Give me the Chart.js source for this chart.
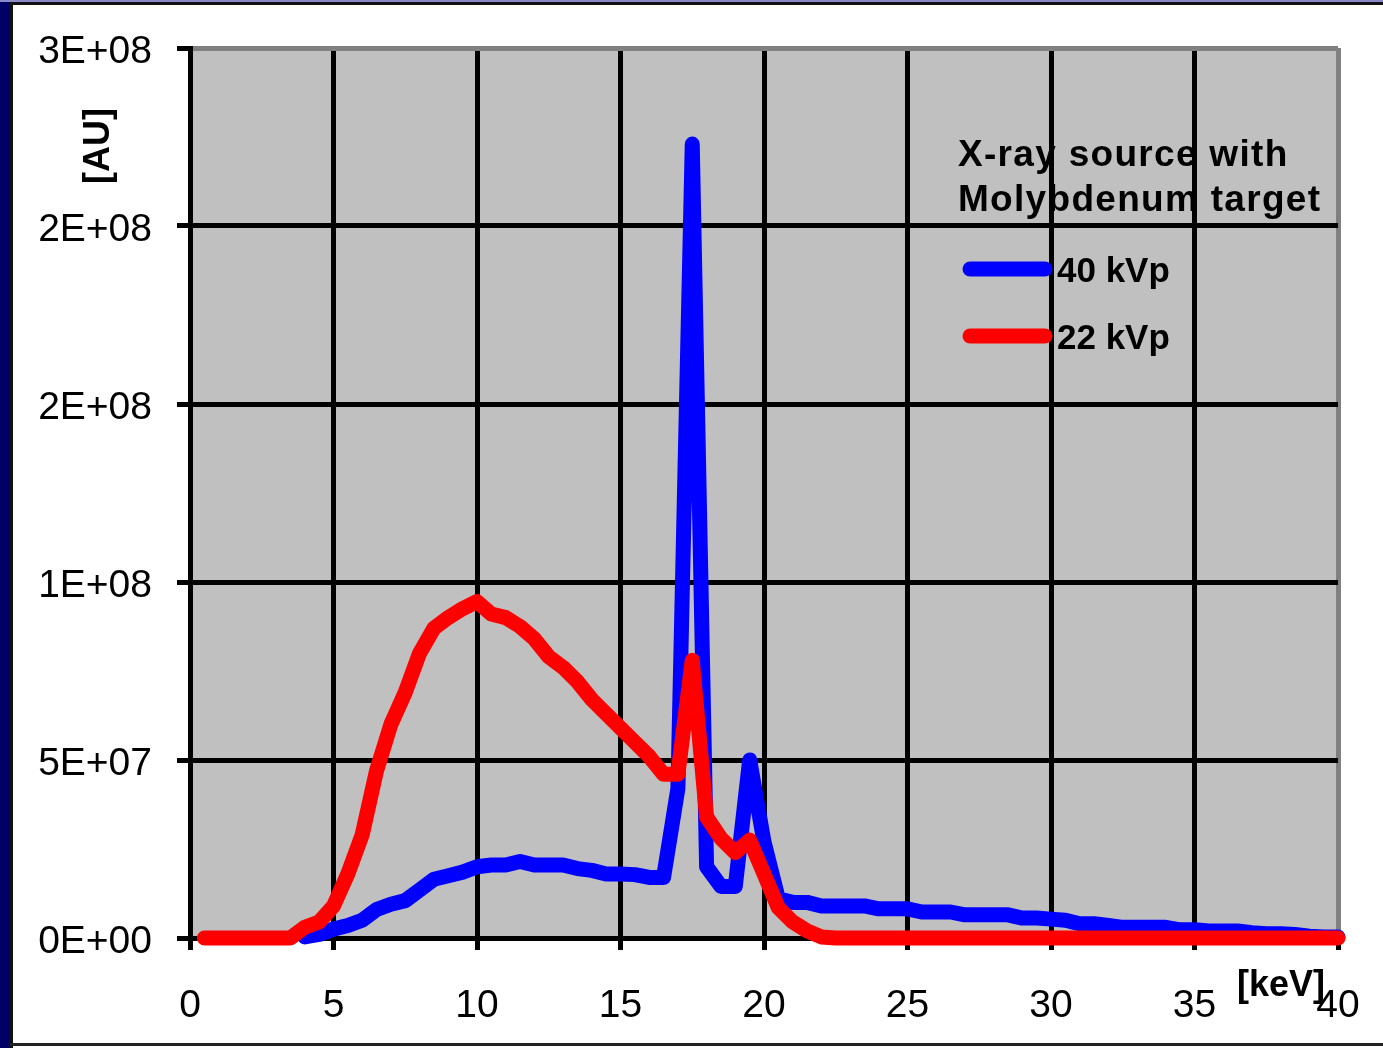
<!DOCTYPE html>
<html>
<head>
<meta charset="utf-8">
<script src="https://cdn.jsdelivr.net/npm/chart.js@4.4.1/dist/chart.umd.min.js"></script>
<style>
  html, body { margin: 0; padding: 0; background: #fff; }
  #wrap { position: relative; width: 1383px; height: 1048px; overflow: hidden; background: #fff; }
  #navy { position: absolute; left: 0; top: 0; width: 10px; height: 1048px; background: #000066; }
  #edgeL { position: absolute; left: 10px; top: 0; width: 3px; height: 1048px; background: #111; }
  #edgeT1 { position: absolute; left: 0; top: 0; width: 1383px; height: 2px; background: #8a8ac8; }
  #edgeT2 { position: absolute; left: 10px; top: 2px; width: 1373px; height: 3px; background: #111; }
  #edgeB { position: absolute; left: 10px; top: 1043px; width: 1373px; height: 3px; background: #222; }
  #c { position: absolute; left: 0; top: 0; }
</style>
</head>
<body>
<div id="wrap">
  <canvas id="c" width="1383" height="1048"></canvas>
  <div id="navy"></div><div id="edgeL"></div><div id="edgeT1"></div><div id="edgeT2"></div><div id="edgeB"></div>
</div>
<script>
// photon energy, keV (0.5 keV bins)
const energies = [
  0.5, 1, 1.5, 2, 2.5, 3, 3.5, 4, 4.5, 5, 5.5, 6, 6.5, 7, 7.5, 8, 8.5, 9, 9.5, 10,
  10.5, 11, 11.5, 12, 12.5, 13, 13.5, 14, 14.5, 15, 15.5, 16, 16.5, 17, 17.5, 18, 18.5, 19, 19.5, 20,
  20.5, 21, 21.5, 22, 22.5, 23, 23.5, 24, 24.5, 25, 25.5, 26, 26.5, 27, 27.5, 28, 28.5, 29, 29.5, 30,
  30.5, 31, 31.5, 32, 32.5, 33, 33.5, 34, 34.5, 35, 35.5, 36, 36.5, 37, 37.5, 38, 38.5, 39, 39.5, 40
];

// intensity in AU, units of 1E+06
const kvp40 = [
  null, null, null, null, null, null, null, 0.3, 1, 2.5, 3.5, 5, 8, 9.5, 10.5, 13.5, 16.5, 17.5, 18.5, 20,
  20.5, 20.5, 21.5, 20.5, 20.5, 20.5, 19.5, 19, 18, 18, 17.8, 17, 17, 42, 223, 20, 14.5, 14.5, 50, 27,
  11, 10, 10, 9, 9, 9, 9, 8.2, 8.2, 8.2, 7.3, 7.3, 7.3, 6.5, 6.5, 6.5, 6.5, 5.6, 5.6, 5.3,
  5, 4, 4, 3.5, 3, 3, 3, 3, 2.3, 2.3, 2, 2, 2, 1.5, 1.2, 1.2, 1, 0.5, 0.3, 0.3
];

const kvp22 = [
  0, 0, 0, 0, 0, 0, 0, 3, 4.5, 9, 18, 29, 47, 60, 69, 80, 87, 90, 92.5, 94.5,
  91, 90, 87.5, 84, 79, 76, 72, 67, 63, 59, 55, 51, 46, 46, 78, 34, 28, 24, 27.5, 18,
  8.5, 4.5, 2, 0.3, 0, 0, 0, 0, 0, 0, 0, 0, 0, 0, 0, 0, 0, 0, 0, 0,
  0, 0, 0, 0, 0, 0, 0, 0, 0, 0, 0, 0, 0, 0, 0, 0, 0, 0, 0, 0
];

const yTickLabels = ['0E+00', '5E+07', '1E+08', '2E+08', '2E+08', '3E+08'];
const legendTitle = ['X-ray source with', 'Molybdenum target'];
const seriesNames = ['40 kVp', '22 kVp'];

const toPoints = ys => energies.map((x, i) => ({x: x, y: ys[i]}));

const plotBackground = {
  id: 'plotBackground',
  beforeDraw(chart) {
    const {ctx, chartArea: a} = chart;
    ctx.save();
    ctx.fillStyle = '#c0c0c0';
    ctx.fillRect(a.left, a.top, a.right - a.left, a.bottom - a.top);
    ctx.restore();
  }
};

const labelsAndLegend = {
  id: 'labelsAndLegend',
  afterDraw(chart) {
    const ctx = chart.ctx;
    ctx.save();
    ctx.fillStyle = '#000';
    ctx.textBaseline = 'middle';
    ctx.textAlign = 'left';
    ctx.font = 'bold 37px "Liberation Sans", Arial, sans-serif';
    ctx.letterSpacing = '1.3px';
    ctx.fillText(legendTitle[0], 958, 156);
    ctx.fillText(legendTitle[1], 958, 201);
    ctx.letterSpacing = '0px';

    // legend entries, in the original order (40 kVp first)
    ctx.font = 'bold 35px "Liberation Sans", Arial, sans-serif';
    const entries = [chart.data.datasets[1], chart.data.datasets[0]];
    entries.forEach((ds, i) => {
      const y = 269 + i * 67;
      ctx.strokeStyle = ds.borderColor;
      ctx.lineWidth = 15;
      ctx.lineCap = 'round';
      ctx.beginPath();
      ctx.moveTo(970, y);
      ctx.lineTo(1045, y);
      ctx.stroke();
      ctx.fillText(ds.label, 1057, y + 3);
    });

    // axis titles
    ctx.font = 'bold 36px "Liberation Sans", Arial, sans-serif';
    ctx.textAlign = 'center';
    ctx.fillText('[keV]', 1281, 986);
    ctx.translate(99, 146);
    ctx.rotate(-Math.PI / 2);
    ctx.fillText('[AU]', 0, 0);
    ctx.restore();
  }
};

const tickFont = {family: '"Liberation Sans", Arial, sans-serif', size: 39};

new Chart(document.getElementById('c'), {
  type: 'line',
  data: {
    datasets: [
      {
        label: seriesNames[1],
        data: toPoints(kvp22),
        borderColor: '#ff0000',
        order: 0,
        clip: 10
      },
      {
        label: seriesNames[0],
        data: toPoints(kvp40),
        borderColor: '#0000ff',
        order: 1,
        clip: 10
      }
    ]
  },
  options: {
    responsive: false,
    animation: false,
    events: [],
    layout: {padding: {left: 20, right: 45, top: 48, bottom: 28}},
    elements: {
      line: {borderWidth: 15, tension: 0, borderCapStyle: 'round', borderJoinStyle: 'round', fill: false},
      point: {radius: 0}
    },
    plugins: {legend: {display: false}, tooltip: {enabled: false}},
    scales: {
      x: {
        type: 'linear',
        min: 0,
        max: 40,
        afterFit: s => { s.height = 82; s.paddingLeft = 0; s.paddingRight = 0; },
        ticks: {stepSize: 5, color: '#000', font: tickFont, padding: 33, maxRotation: 0},
        grid: {
          color: c => (c.tick && c.tick.value === 40 ? '#808080' : '#000'),
          lineWidth: 5,
          tickLength: 12,
          tickColor: '#000',
          tickWidth: 5
        },
        border: {color: '#000', width: 5}
      },
      y: {
        min: 0,
        max: 250,
        afterFit: s => { s.width = 170; s.paddingTop = 0; s.paddingBottom = 0; },
        ticks: {
          stepSize: 50,
          color: '#000',
          font: tickFont,
          padding: 25,
          labelOffset: 4,
          callback: (v, i) => yTickLabels[i]
        },
        grid: {
          color: c => (c.tick && c.tick.value === 250 ? '#808080' : '#000'),
          lineWidth: 5,
          tickLength: 13,
          tickColor: '#000',
          tickWidth: 5
        },
        border: {color: '#000', width: 5}
      }
    }
  },
  plugins: [plotBackground, labelsAndLegend]
});
</script>
</body>
</html>
